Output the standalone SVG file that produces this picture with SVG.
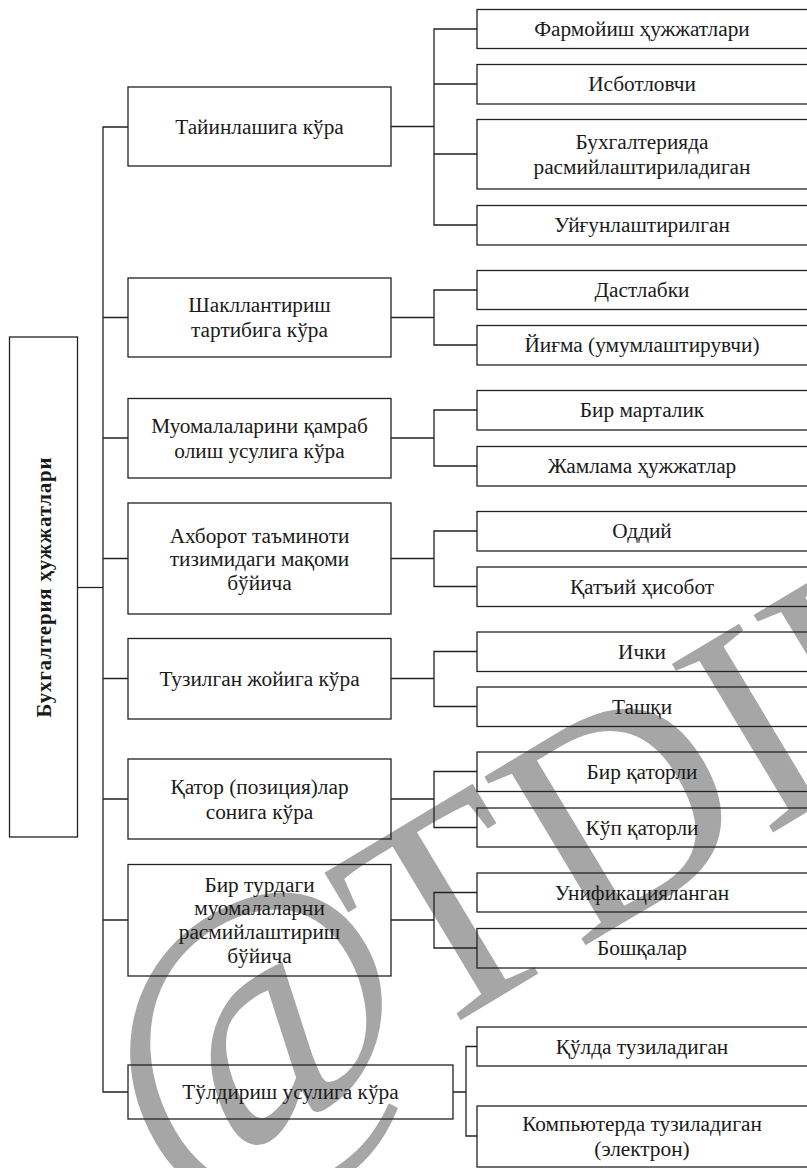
<svg xmlns="http://www.w3.org/2000/svg" width="807" height="1168" viewBox="0 0 807 1168">
<style>
.box{fill:none;stroke:#222;stroke-width:1.3}
.ln{fill:none;stroke:#222;stroke-width:1.3}
.t{font-family:"Liberation Serif","Times New Roman",serif;font-size:21.3px;fill:#1a1a1a;text-anchor:middle;dominant-baseline:central}
.root{font-family:"Liberation Serif","Times New Roman",serif;font-size:21px;font-weight:bold;fill:#1a1a1a;text-anchor:middle;dominant-baseline:central;letter-spacing:0.8px}
.wm{font-family:"Liberation Serif","Times New Roman",serif;fill:#a6a6a6}
</style>
<rect width="807" height="1168" fill="#fff"/>
<g id="watermark">
<text class="wm" font-size="345" transform="translate(268,1056) rotate(-30)" x="-159" y="79">@</text>
<text class="wm" font-size="300" transform="translate(421,1044) rotate(-31)" x="0" y="0">TDIU</text>
</g>
<g id="connectors">
<path class="ln" d="M77 587.5H103"/>
<path class="ln" d="M128 127H103V1092H128"/>
<path class="ln" d="M103 317.5H128M103 438H128M103 558.5H128M103 678.5H128M103 799H128M103 920H128"/>
<path class="ln" d="M391 126.5H434M477 29H434V225H477M434 84H477M434 154H477"/>
<path class="ln" d="M391 317.5H434M477 290H434V345H477"/>
<path class="ln" d="M391 438H434M477 410H434V466H477"/>
<path class="ln" d="M391 558.5H434M477 531H434V586.5H477"/>
<path class="ln" d="M391 678.5H434M477 651.5H434V706.5H477"/>
<path class="ln" d="M391 799H434M477 771.5H434V827.5H477"/>
<path class="ln" d="M391 920H434M477 892.5H434V948H477"/>
<path class="ln" d="M453 1092H466M477 1046.5H466V1136H477"/>
</g>
<g id="root">
<rect class="box" x="9.5" y="337" width="68" height="500"/>
<text class="root" transform="translate(44,587) rotate(-90)">Бухгалтерия ҳужжатлари</text>
</g>
<g id="n1">
<rect class="box" x="128" y="87" width="263" height="79"/>
<text class="t" x="259.5" y="126.5">Тайинлашига кўра</text>
</g>
<g id="n1a"><rect class="box" x="477" y="9.5" width="335" height="39"/><text class="t" x="642" y="29">Фармойиш ҳужжатлари</text></g>
<g id="n1b"><rect class="box" x="477" y="64.5" width="335" height="39.5"/><text class="t" x="642" y="84">Исботловчи</text></g>
<g id="n1c"><rect class="box" x="477" y="119.5" width="335" height="69.5"/><text class="t" x="642" y="141.5">Бухгалтерияда</text><text class="t" x="642" y="166.5">расмийлаштириладиган</text></g>
<g id="n1d"><rect class="box" x="477" y="205.5" width="335" height="39.5"/><text class="t" x="642" y="225">Уйғунлаштирилган</text></g>
<g id="n2">
<rect class="box" x="128" y="278" width="263" height="79"/>
<text class="t" x="259.5" y="305">Шакллантириш</text><text class="t" x="259.5" y="330">тартибига кўра</text>
</g>
<g id="n2a"><rect class="box" x="477" y="270.5" width="335" height="39"/><text class="t" x="642" y="290">Дастлабки</text></g>
<g id="n2b"><rect class="box" x="477" y="325.5" width="335" height="39.5"/><text class="t" x="642" y="345">Йиғма (умумлаштирувчи)</text></g>
<g id="n3">
<rect class="box" x="128" y="398.5" width="263" height="79.5"/>
<text class="t" x="259.5" y="425.5">Муомалаларини қамраб</text><text class="t" x="259.5" y="450.5">олиш усулига кўра</text>
</g>
<g id="n3a"><rect class="box" x="477" y="390.5" width="335" height="39.5"/><text class="t" x="642" y="410">Бир марталик</text></g>
<g id="n3b"><rect class="box" x="477" y="446.5" width="335" height="39.5"/><text class="t" x="642" y="466">Жамлама ҳужжатлар</text></g>
<g id="n4">
<rect class="box" x="128" y="503" width="263" height="111"/>
<text class="t" x="259.5" y="535.5">Ахборот таъминоти</text><text class="t" x="259.5" y="559">тизимидаги мақоми</text><text class="t" x="259.5" y="582.5">бўйича</text>
</g>
<g id="n4a"><rect class="box" x="477" y="511.5" width="335" height="39.5"/><text class="t" x="642" y="531">Оддий</text></g>
<g id="n4b"><rect class="box" x="477" y="567" width="335" height="39.5"/><text class="t" x="642" y="586.5">Қатъий ҳисобот</text></g>
<g id="n5">
<rect class="box" x="128" y="638.5" width="263" height="80.5"/>
<text class="t" x="259.5" y="678.5">Тузилган жойига кўра</text>
</g>
<g id="n5a"><rect class="box" x="477" y="632" width="335" height="39.5"/><text class="t" x="642" y="651.5">Ички</text></g>
<g id="n5b"><rect class="box" x="477" y="687" width="335" height="39.5"/><text class="t" x="642" y="706.5">Ташқи</text></g>
<g id="n6">
<rect class="box" x="128" y="759" width="263" height="80"/>
<text class="t" x="259.5" y="786.5">Қатор (позиция)лар</text><text class="t" x="259.5" y="811.5">сонига кўра</text>
</g>
<g id="n6a"><rect class="box" x="477" y="752" width="335" height="39.5"/><text class="t" x="642" y="771.5">Бир қаторли</text></g>
<g id="n6b"><rect class="box" x="477" y="808" width="335" height="39"/><text class="t" x="642" y="827.5">Кўп қаторли</text></g>
<g id="n7">
<rect class="box" x="128" y="864.5" width="263" height="111.5"/>
<text class="t" x="259.5" y="884.5">Бир турдаги</text><text class="t" x="259.5" y="908">муомалаларни</text><text class="t" x="259.5" y="932">расмийлаштириш</text><text class="t" x="259.5" y="955.5">бўйича</text>
</g>
<g id="n7a"><rect class="box" x="477" y="873" width="335" height="39"/><text class="t" x="642" y="892.5">Унификацияланган</text></g>
<g id="n7b"><rect class="box" x="477" y="928.5" width="335" height="39.5"/><text class="t" x="642" y="948">Бошқалар</text></g>
<g id="n8">
<rect class="box" x="128" y="1065" width="325" height="54"/>
<text class="t" x="290.5" y="1092">Тўлдириш усулига кўра</text>
</g>
<g id="n8a"><rect class="box" x="477" y="1027" width="335" height="39"/><text class="t" x="642" y="1046.5">Қўлда тузиладиган</text></g>
<g id="n8b"><rect class="box" x="477" y="1106" width="335" height="61"/><text class="t" x="642" y="1124">Компьютерда тузиладиган</text><text class="t" x="642" y="1149">(электрон)</text></g>
</svg>
